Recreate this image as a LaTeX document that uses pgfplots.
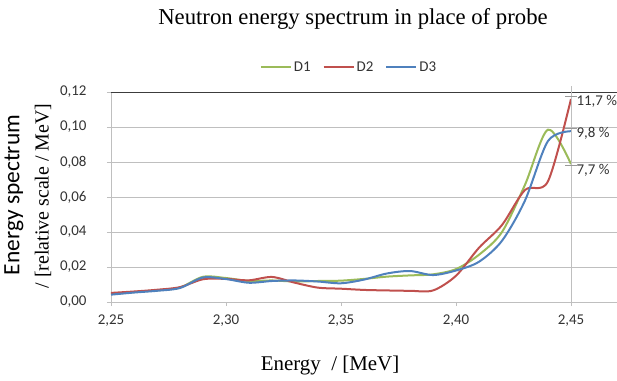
\documentclass[border=0pt]{standalone}
\usepackage{fontspec}
\setmainfont{Liberation Serif}
\newfontfamily\carlito{Carlito}
\usepackage{pgfplots}
\pgfplotsset{compat=1.18}
\definecolor{cD1}{RGB}{155,187,89}
\definecolor{cD2}{RGB}{192,80,77}
\definecolor{cD3}{RGB}{79,129,189}
\definecolor{gridc}{RGB}{191,191,191}
\definecolor{topc}{RGB}{60,60,60}
\pgfplotstableread{
x     d1      d2      d3
2.25  0.0045  0.0052  0.0042
2.26  0.0057  0.0060  0.0054
2.27  0.0067  0.0070  0.0064
2.28  0.0083  0.0085  0.0080
2.29  0.0144  0.0130  0.0140
2.30  0.0137  0.0132  0.0131
2.31  0.0120  0.0124  0.0110
2.32  0.0123  0.0143  0.0120
2.33  0.0117  0.0110  0.0123
2.34  0.0120  0.0082  0.0117
2.35  0.0122  0.0076  0.0107
2.36  0.0132  0.0069  0.0128
2.37  0.0145  0.0066  0.0163
2.38  0.0152  0.0064  0.0177
2.39  0.0158  0.0066  0.0154
2.40  0.0188  0.0150  0.0180
2.41  0.0270  0.0310  0.0230
2.42  0.0400  0.0440  0.0350
2.43  0.0670  0.0640  0.0580
2.44  0.0985  0.0690  0.0920
2.45  0.0788  0.1160  0.0976
}\spec
\begin{document}
\begin{tikzpicture}
\begin{axis}[name=ax, at={(0,0)}, anchor=south west,
  scale only axis, width=506bp, height=210bp,
  xmin=2.25, xmax=2.47, ymin=0, ymax=0.12,
  xtick={2.25,2.30,2.35,2.40,2.45},
  ytick={0,0.02,0.04,0.06,0.08,0.10,0.12},
  axis x line*=bottom, axis y line*=left,
  axis line style={gridc, line width=0.8bp},
  ymajorgrids, grid style={gridc, line width=0.8bp},
  tick align=outside, major tick length=4bp,
  tick style={gridc, line width=0.8bp},
  /pgf/number format/assume math mode=true,
  /pgf/number format/.cd, use comma, fixed, fixed zerofill, precision=2, /pgfplots/.cd,
  tick label style={font=\carlito\fontsize{15}{17}\selectfont, text=black!80},
  yticklabel style={anchor=east, xshift=-17bp},
  xticklabel style={anchor=north, yshift=-5bp},
  clip=false,
  legend style={at={(0.4705,1.119)}, anchor=center, draw=none, fill=none,
    legend columns=3, font=\carlito\fontsize{15}{17}\selectfont, text=black!80,
    /tikz/every even column/.append style={column sep=10bp}},
  legend image code/.code={\draw[#1, line width=2bp] (0bp,0bp) -- (30bp,0bp);},
]
\draw[topc, line width=0.8bp] (rel axis cs:0,1) -- (rel axis cs:1,1);
\addplot[cD1, line width=2bp, smooth] table[x=x, y=d1] {\spec};
\addplot[cD2, line width=2bp, smooth] table[x=x, y=d2] {\spec};
\addplot[cD3, line width=2bp, smooth] table[x=x, y=d3] {\spec};
\legend{D1, D2, D3}
\addplot[gridc, line width=1bp, forget plot] coordinates {(2.45,-0.0005) (2.45,0.1235)};
\addplot[gray!80, only marks, mark=-, mark size=6bp, mark options={line width=1bp}, forget plot,
  point meta=explicit symbolic,
  nodes near coords={\pgfplotspointmeta},
  every node near coord/.append style={anchor=west, xshift=4bp, yshift=-5bp, inner sep=1bp,
    font=\carlito\fontsize{15}{17}\selectfont, text=black!80}]
  coordinates {(2.45,0.1175) [11,7 \%] (2.45,0.0990) [9,8 \%] (2.45,0.0780) [7,7 \%]};
\end{axis}
\node[anchor=base, font=\fontsize{22.8}{26}\selectfont] at ([xshift=-11bp, yshift=67bp]ax.north) {Neutron energy spectrum in place of probe};
\node[anchor=base, font=\fontsize{21}{24}\selectfont] at ([xshift=-34bp, yshift=-68bp]ax.south) {Energy~~/ [MeV]};
\node[rotate=90, anchor=center, font=\carlito\fontsize{23.5}{26}\selectfont] at ([xshift=-97bp, yshift=2bp]ax.west) {Energy spectrum};
\node[rotate=90, anchor=center, font=\fontsize{20}{24}\selectfont] at ([xshift=-68bp, yshift=1bp]ax.west) {/ [relative scale / MeV]};
\pgfresetboundingbox
\path ([shift={(-111bp,-79bp)}]ax.south west) rectangle ([shift={(0bp,92bp)}]ax.north east);
\end{tikzpicture}
\end{document}
